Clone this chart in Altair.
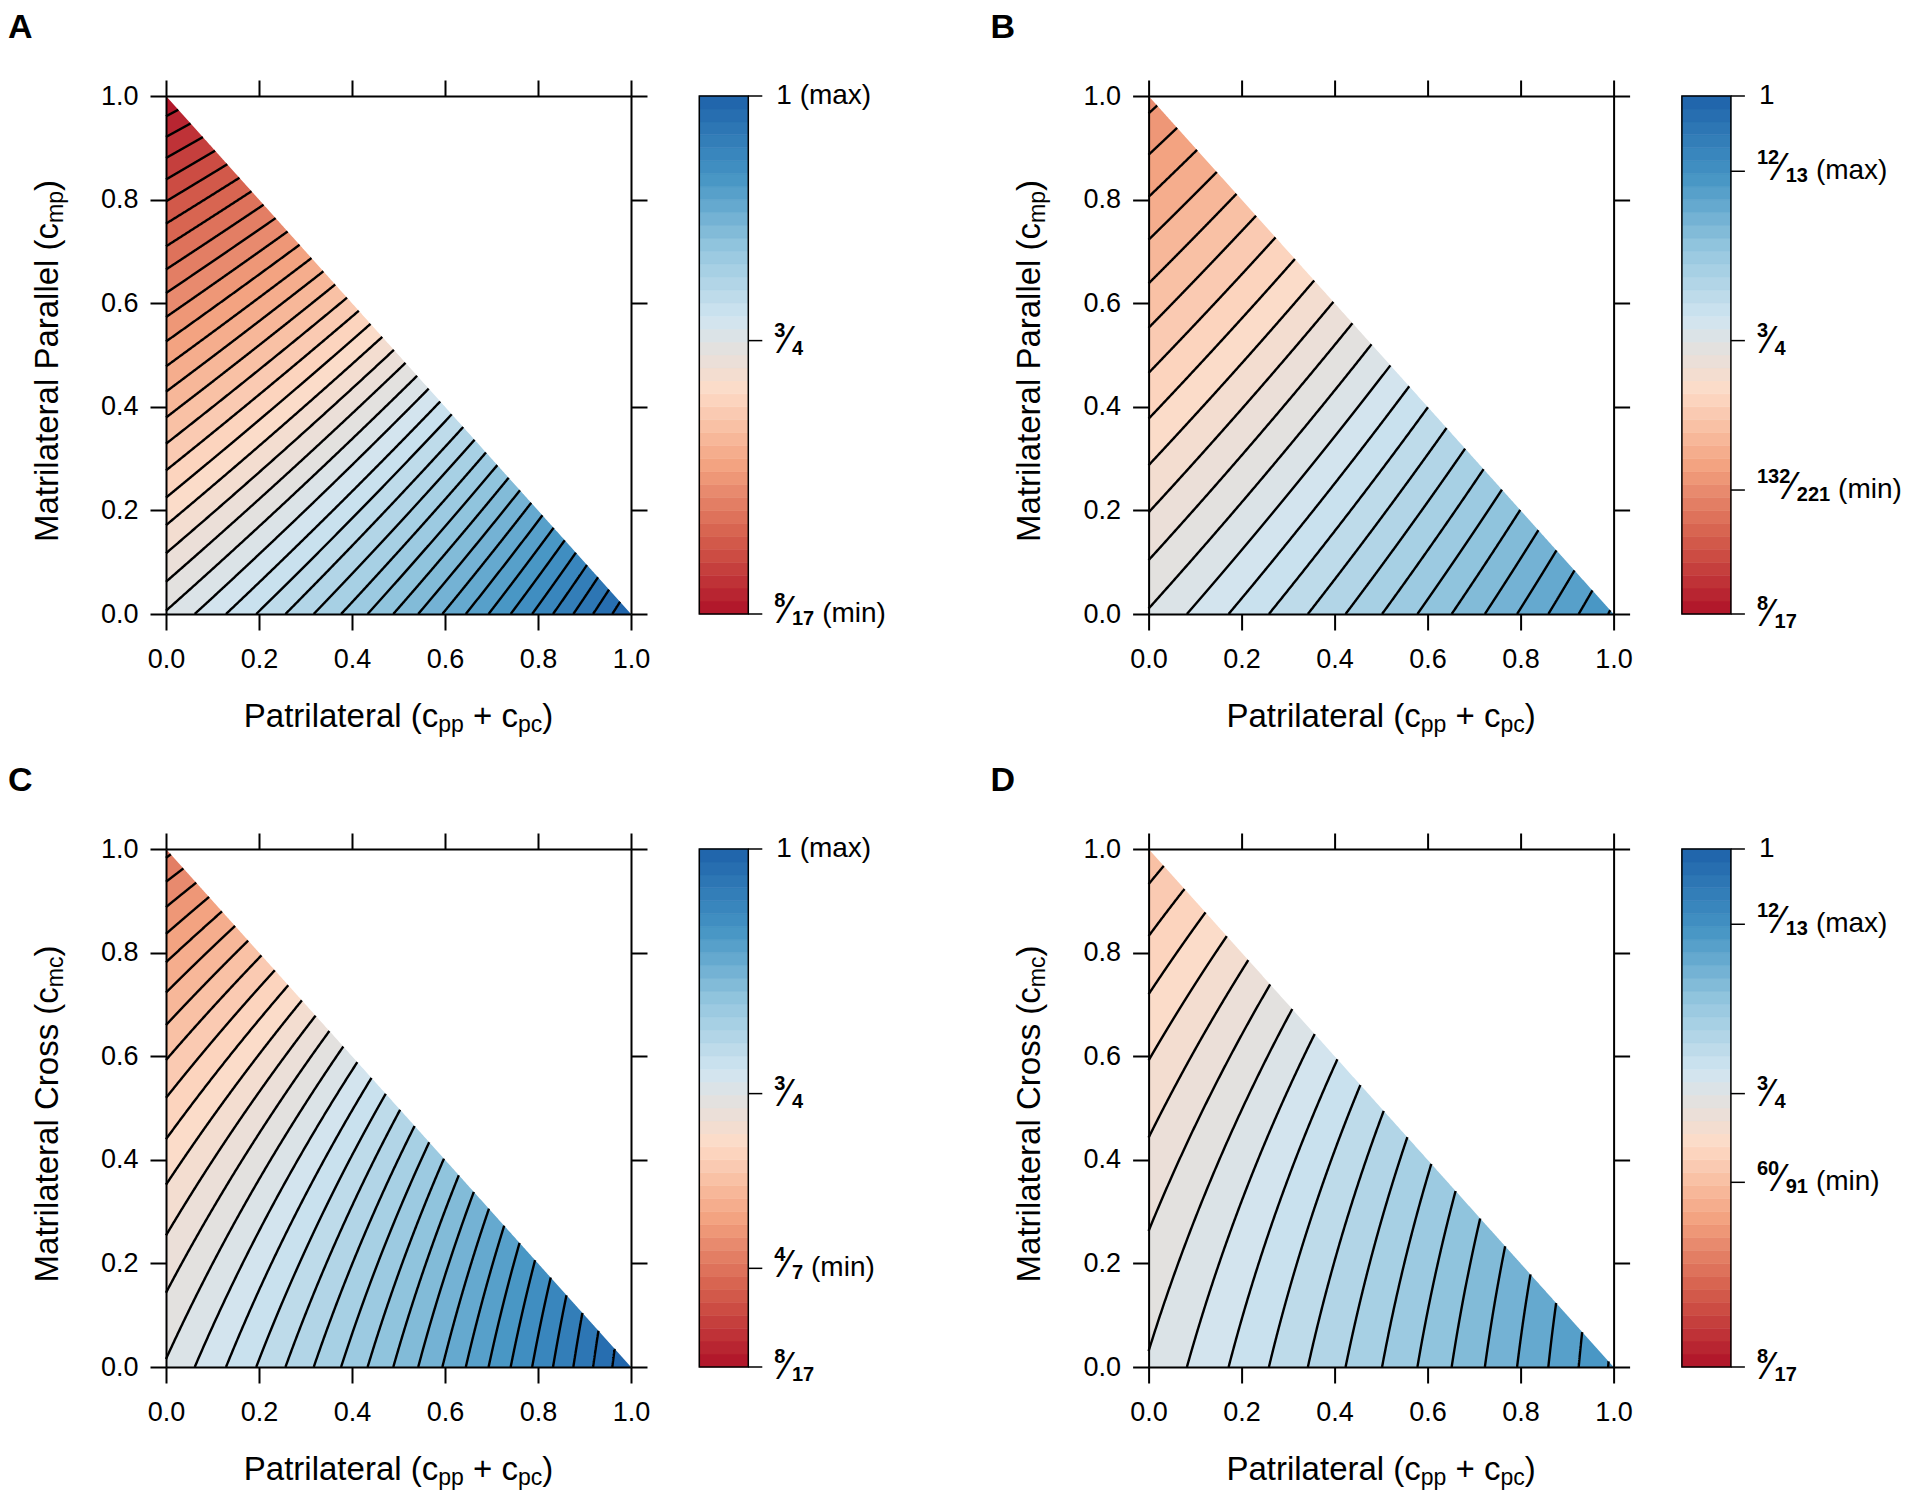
import numpy as np
import pandas as pd
import altair as alt

alt.data_transformers.disable_max_rows()
FONT = "Liberation Sans"

# ---------------- values ----------------
PANEL_KEYS = ["A", "B", "C", "D"]
# quantity shown: within-individual (A, C) or between-individual (B, D) X/A ratio
PANEL_KIND = {"A": "within", "B": "between", "C": "within", "D": "between"}
PANEL_MATRI = {"A": "parallel", "B": "parallel", "C": "cross", "D": "cross"}
# pedigree coalescence coefficients of the matrilateral cousin type: P = a*c / (16 - b*c)
MATRI_COEF = {"parallel": (3.0, 5.0), "cross": (2.0, 6.0)}
Y_TITLE_MAIN = {"parallel": "Matrilateral Parallel (c", "cross": "Matrilateral Cross (c"}
Y_TITLE_SUB = {"parallel": "mp", "cross": "mc"}
# (text, style); " " entries are spaces that only advance the pen
X_TITLE_PARTS = [("Patrilateral (c", "main"), ("pp", "sub"), (" ", "main"), ("+", "main"), (" ", "main"),
                 ("c", "main"), ("pc", "sub"), (")", "main")]
AXIS_TICKS = [0.0, 0.2, 0.4, 0.6, 0.8, 1.0]
CB_MIN, CB_MAX = 8 / 17, 1.0
N_BANDS = 40
RDBU = ["#B2182B", "#D6604D", "#F4A582", "#FDDBC7", "#D1E5F0", "#92C5DE", "#4393C3", "#2166AC"]
# colorbar labels: (value, numerator or plain text, denominator, suffix)
CB_LABELS = {
    "A": [(1.0, "1 (max)", None, None), (3 / 4, "3", "4", ""), (8 / 17, "8", "17", "(min)")],
    "B": [(1.0, "1", None, None), (12 / 13, "12", "13", "(max)"), (3 / 4, "3", "4", ""),
          (132 / 221, "132", "221", "(min)"), (8 / 17, "8", "17", "")],
    "C": [(1.0, "1 (max)", None, None), (3 / 4, "3", "4", ""), (4 / 7, "4", "7", "(min)"), (8 / 17, "8", "17", "")],
    "D": [(1.0, "1", None, None), (12 / 13, "12", "13", "(max)"), (3 / 4, "3", "4", ""),
          (60 / 91, "60", "91", "(min)"), (8 / 17, "8", "17", "")],
}

# ---------------- layout sizes ----------------
W, H = 465, 518
BAR_W = 49
MAIN_FS, SUB_FS, TICK_FS = 33, 23, 27
CB_FS, FRAC_FS, SLASH_FS = 28, 20, 38
LETTER_FS = 34

LEVELS = np.linspace(CB_MIN, CB_MAX, N_BANDS + 1)


def ramp(anchors, n):
    arr = np.array([[int(h[i:i + 2], 16) for i in (1, 3, 5)] for h in anchors], float)
    pos = np.linspace(0, 1, len(anchors))
    out = []
    for t in np.linspace(0, 1, n):
        rgb = [int(round(np.interp(t, pos, arr[:, c]))) for c in range(3)]
        out.append("#%02x%02x%02x" % tuple(rgb))
    return out


COLORS = ramp(RDBU, N_BANDS)
CSCALE = alt.Scale(domain=list(range(N_BANDS)), range=COLORS)


def xsol(key, y, c):
    """x position (patrilateral) where the panel's ratio equals c, at matrilateral value y."""
    a, b = MATRI_COEF[PANEL_MATRI[key]]
    P = a * y / (16 - b * y)
    if PANEL_KIND[key] == "within":
        return 4 - y - 3 * (1 - P) / ((1 + 2 * P) * c)
    return (16 - 3 * y - 12 / ((1 + 2 * P) * c)) / 3


def band_frame(key):
    yy = np.linspace(0, 1, 4001)
    recs = []
    for b in range(N_BANDS):
        lo, hi = LEVELS[b], LEVELS[b + 1]
        xl = np.clip(xsol(key, yy, lo), 0, 1 - yy)
        xh = np.clip(xsol(key, yy, hi), 0, 1 - yy)
        m = (xh - xl) > 1e-7
        if not m.any():
            continue
        idx = np.nonzero(m)[0]
        ya = yy[max(idx[0] - 1, 0)]
        yb = yy[min(idx[-1] + 1, len(yy) - 1)]
        ys = np.linspace(ya, yb, 180)
        xl = np.clip(xsol(key, ys, lo), 0, 1 - ys)
        xh = np.clip(xsol(key, ys, hi), 0, 1 - ys)
        for i, (y_, a_, c_) in enumerate(zip(ys, xl, xh)):
            recs.append((b, i, round(float(y_), 5), round(float(a_), 5), round(float(c_), 5)))
    return pd.DataFrame(recs, columns=["b", "i", "y", "x", "x2"])


def bis(g, bad, good):
    for _ in range(50):
        mid = 0.5 * (bad + good)
        if g(mid) >= 0:
            good = mid
        else:
            bad = mid
    return good


def line_frame(key):
    yy = np.linspace(0, 1, 4001)
    recs = []
    for k in range(1, N_BANDS):
        c = LEVELS[k]

        def g(y, c=c):
            xv = xsol(key, y, c)
            return np.minimum(xv, 1 - y - xv)

        gv = g(yy)
        idx = np.nonzero(gv >= 0)[0]
        if len(idx) == 0:
            continue
        i0, i1 = idx[0], idx[-1]
        ya = yy[i0] if i0 == 0 else bis(g, yy[i0 - 1], yy[i0])
        yb = yy[i1] if i1 == len(yy) - 1 else bis(g, yy[i1 + 1], yy[i1])
        ys = np.linspace(ya, yb, 200)
        xs = np.clip(xsol(key, ys, c), 0, 1 - ys)
        for i, (x_, y_) in enumerate(zip(xs, ys)):
            recs.append((k, i, round(float(x_), 5), round(float(y_), 5)))
    return pd.DataFrame(recs, columns=["k", "i", "x", "y"])


AW = {'P': 667, 'a': 556, 't': 278, 'r': 333, 'i': 222, 'l': 222, 'e': 556, ' ': 278, '(': 333, ')': 333,
      'c': 500, 'p': 556, '+': 584, 'M': 833, 'm': 833, 'C': 722, 'o': 556, 's': 500}


def tw(s, size):
    return sum(AW.get(ch, 556) for ch in s) * size / 1000.0


ONE = pd.DataFrame({"a": [0]})


def text_layer(txt, px, py, size, weight="normal", angle=0, align="left", baseline="alphabetic"):
    return alt.Chart(ONE).mark_text(
        text=txt, font=FONT, fontSize=size, fontWeight=weight, angle=angle,
        align=align, baseline=baseline, color="black"
    ).encode(x=alt.value(px), y=alt.value(py))


def ax(orient, labels):
    kw = dict(orient=orient, values=AXIS_TICKS, title=None, grid=False, labels=labels,
              tickSize=16, tickWidth=2, tickColor="black", domainColor="black", domainWidth=2, zindex=1)
    if labels:
        kw.update(format=".1f", labelFont=FONT, labelFontSize=TICK_FS, labelColor="black",
                  labelPadding=16 if orient == "bottom" else 12, labelFlush=False, labelOverlap=False)
    return alt.Axis(**kw)


def sc():
    return alt.Scale(domain=[0, 1], nice=False, zero=False)


def panel(key):
    bdf = band_frame(key)
    ldf = line_frame(key)
    bands = alt.Chart(bdf).mark_area(orient="horizontal", strokeWidth=0, opacity=1).encode(
        y=alt.Y("y:Q", scale=sc(), axis=ax("left", True)),
        x=alt.X("x:Q", scale=sc(), axis=ax("bottom", True), stack=None),
        x2="x2:Q",
        color=alt.Color("b:O", scale=CSCALE, legend=None),
        detail="b:O",
    )
    lines = alt.Chart(ldf).mark_line(color="black", strokeWidth=2.4).encode(
        x=alt.X("x:Q", scale=sc(), axis=None),
        y=alt.Y("y:Q", scale=sc(), axis=None),
        detail="k:N",
        order="i:Q",
    )
    frame = alt.Chart(pd.DataFrame({"x": [0.0], "y": [0.0]})).mark_point(opacity=0).encode(
        x=alt.X("x:Q", scale=sc(), axis=ax("top", False)),
        y=alt.Y("y:Q", scale=sc(), axis=ax("right", False)),
    )
    texts = [text_layer(key, -158, -57.6, LETTER_FS, weight="bold")]
    # x title
    parts = X_TITLE_PARTS
    widths = [tw(s, MAIN_FS if kind == "main" else SUB_FS) for s, kind in parts]
    x0 = W / 2 - sum(widths) / 2
    for (s, kind), w in zip(parts, widths):
        if s.strip():
            if kind == "main":
                texts.append(text_layer(s, x0, H + 113, MAIN_FS))
            else:
                texts.append(text_layer(s, x0, H + 118, SUB_FS))
        x0 += w
    # y title (rotated)
    m = PANEL_MATRI[key]
    yparts = [(Y_TITLE_MAIN[m], "main"), (Y_TITLE_SUB[m], "sub"), (")", "main")]
    ywidths = [tw(s, MAIN_FS if kind == "main" else SUB_FS) for s, kind in yparts]
    y0 = H / 2 + sum(ywidths) / 2 + 6
    for (s, kind), w in zip(yparts, ywidths):
        if kind == "main":
            texts.append(text_layer(s, -108.5, y0, MAIN_FS, angle=270))
        else:
            texts.append(text_layer(s, -103.5, y0, SUB_FS, angle=270))
        y0 -= w
    return alt.layer(bands, lines, frame, *texts).resolve_scale(
        x="independent", y="independent").properties(width=W, height=H)


def cbar(key, width):
    vs = alt.Scale(domain=[CB_MIN, CB_MAX], nice=False, zero=False)
    ps = alt.Scale(domain=[0, width], nice=False, zero=False)
    cb = pd.DataFrame({"b": list(range(N_BANDS)), "lo": LEVELS[:-1], "hi": LEVELS[1:],
                       "x0": 0.0, "x1": float(BAR_W)})
    rects = alt.Chart(cb).mark_rect(strokeWidth=0.6).encode(
        x=alt.X("x0:Q", scale=ps, axis=None), x2="x1:Q",
        y=alt.Y("lo:Q", scale=vs, axis=None), y2="hi:Q",
        color=alt.Color("b:O", scale=CSCALE, legend=None),
        stroke=alt.Stroke("b:O", scale=CSCALE, legend=None),
    )
    border = alt.Chart(pd.DataFrame({"x0": [0.0], "x1": [float(BAR_W)], "lo": [CB_MIN], "hi": [CB_MAX]})).mark_rect(
        fillOpacity=0, stroke="black", strokeWidth=1.5).encode(
        x=alt.X("x0:Q", scale=ps, axis=None), x2="x1:Q",
        y=alt.Y("lo:Q", scale=vs, axis=None), y2="hi:Q")
    labs = CB_LABELS[key]
    tk = pd.DataFrame({"v": [l[0] for l in labs], "a": float(BAR_W), "c": float(BAR_W + 14)})
    ticks = alt.Chart(tk).mark_rule(color="black", strokeWidth=1.5).encode(
        x=alt.X("a:Q", scale=ps, axis=None), x2="c:Q", y=alt.Y("v:Q", scale=vs, axis=None))

    DW = FRAC_FS * 0.556
    plain, suf = [], []
    groups = {True: {"num": [], "sl": [], "den": []}, False: {"num": [], "sl": [], "den": []}}
    for v, a, b, s in labs:
        if b is None:
            plain.append({"v": v, "px": 77.0, "t": a})
            continue
        g = groups[bool(s)]
        nr = 75.0 + len(a) * DW
        g["num"].append({"v": v, "px": 75.0, "t": a})
        g["sl"].append({"v": v, "px": nr + 1.5, "t": "\u2044"})
        dl = nr + 6.5
        g["den"].append({"v": v, "px": dl, "t": b})
        if s:
            suf.append({"v": v, "px": dl + len(b) * DW + 8, "t": s})

    def tl(rows, size, weight, align, baseline, dy):
        return alt.Chart(pd.DataFrame(rows)).mark_text(
            font=FONT, fontSize=size, fontWeight=weight, align=align, baseline=baseline, dy=dy, color="black"
        ).encode(x=alt.X("px:Q", scale=ps, axis=None), y=alt.Y("v:Q", scale=vs, axis=None), text="t:N")

    layers = [rects, border, ticks, tl(plain, CB_FS, "normal", "left", "middle", 0)]
    for has_suf, g in groups.items():
        if not g["num"]:
            continue
        oc = -4 if has_suf else -1
        layers.append(tl(g["num"], FRAC_FS, "bold", "left", "alphabetic", oc - 3))
        layers.append(tl(g["sl"], SLASH_FS, "normal", "center", "alphabetic", oc + 13))
        layers.append(tl(g["den"], FRAC_FS, "bold", "left", "alphabetic", oc + 15))
    if suf:
        layers.append(tl(suf, CB_FS, "normal", "left", "middle", 0))
    return alt.layer(*layers).properties(width=width, height=H)


SP = 48.3
row1 = alt.hconcat(panel("A"), cbar("A", 243), panel("B"), cbar("B", 200), spacing=SP)
row2 = alt.hconcat(panel("C"), cbar("C", 243), panel("D"), cbar("D", 200), spacing=SP)
chart = alt.vconcat(row1, row2, spacing=27).properties(
    padding={"left": 0, "top": 3, "right": 0, "bottom": 0}
).configure(
    font=FONT, background="white", view=alt.ViewConfig(stroke="transparent", strokeWidth=0)
)

chart.save("out.html", embed_options={"renderer": "svg", "actions": False})
